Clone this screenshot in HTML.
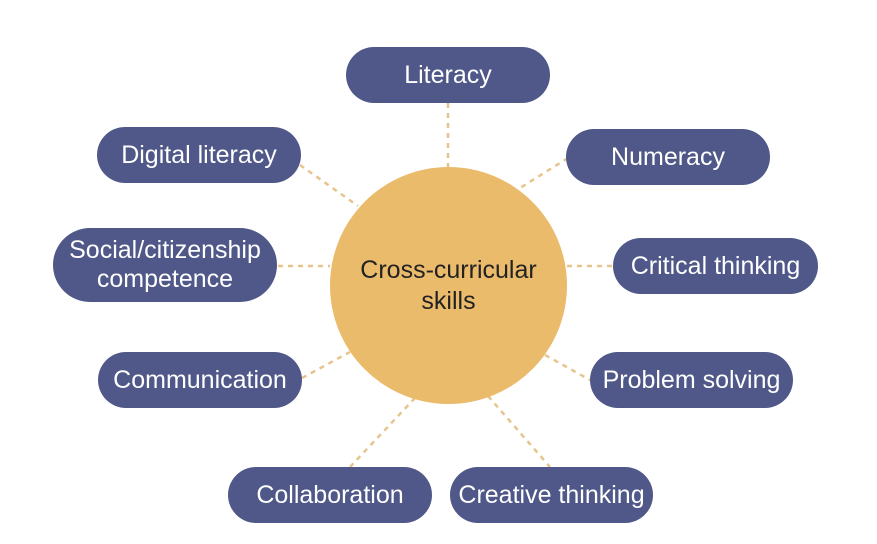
<!DOCTYPE html>
<html><head><meta charset="utf-8"><style>
html,body{margin:0;padding:0;background:#fff;}
body{width:877px;height:544px;position:relative;overflow:hidden;font-family:"Liberation Sans",sans-serif;}
.p{position:absolute;background:#4f5888;color:#fff;border-radius:28px;display:flex;align-items:center;justify-content:center;text-align:center;font-size:25px;line-height:29px;box-sizing:border-box;white-space:nowrap;}
.c{position:absolute;left:330px;top:167px;width:237px;height:237px;border-radius:50%;background:#ebbb6c;display:flex;align-items:center;justify-content:center;text-align:center;font-size:25px;line-height:31px;color:#222;}
svg{position:absolute;left:0;top:0;}
</style></head><body>
<svg width="877" height="544"><g stroke="#e6c48c" stroke-width="2.5" stroke-dasharray="5,5" fill="none">
<line x1="448" y1="103" x2="448" y2="167"/>
<line x1="300" y1="165" x2="358" y2="206"/>
<line x1="568" y1="158" x2="520" y2="188"/>
<line x1="278" y1="266" x2="330" y2="266"/>
<line x1="567" y1="266" x2="613" y2="266"/>
<line x1="302" y1="378" x2="350" y2="352"/>
<line x1="545" y1="355" x2="590" y2="380"/>
<line x1="350" y1="467" x2="415" y2="398"/>
<line x1="488" y1="396" x2="550" y2="467"/>
</g></svg>
<div class="c">Cross-curricular<br>skills</div>
<div class="p" style="left:346px;top:47px;width:204px;height:56px;">Literacy</div>
<div class="p" style="left:97px;top:127px;width:204px;height:56px;">Digital literacy</div>
<div class="p" style="left:566px;top:129px;width:204px;height:56px;">Numeracy</div>
<div class="p" style="left:53px;top:228px;width:224px;height:74px;border-radius:37px;">Social/citizenship<br>competence</div>
<div class="p" style="left:613px;top:238px;width:205px;height:56px;">Critical thinking</div>
<div class="p" style="left:98px;top:352px;width:204px;height:56px;">Communication</div>
<div class="p" style="left:590px;top:352px;width:203px;height:56px;">Problem solving</div>
<div class="p" style="left:228px;top:467px;width:204px;height:56px;">Collaboration</div>
<div class="p" style="left:450px;top:467px;width:203px;height:56px;">Creative thinking</div>
</body></html>
